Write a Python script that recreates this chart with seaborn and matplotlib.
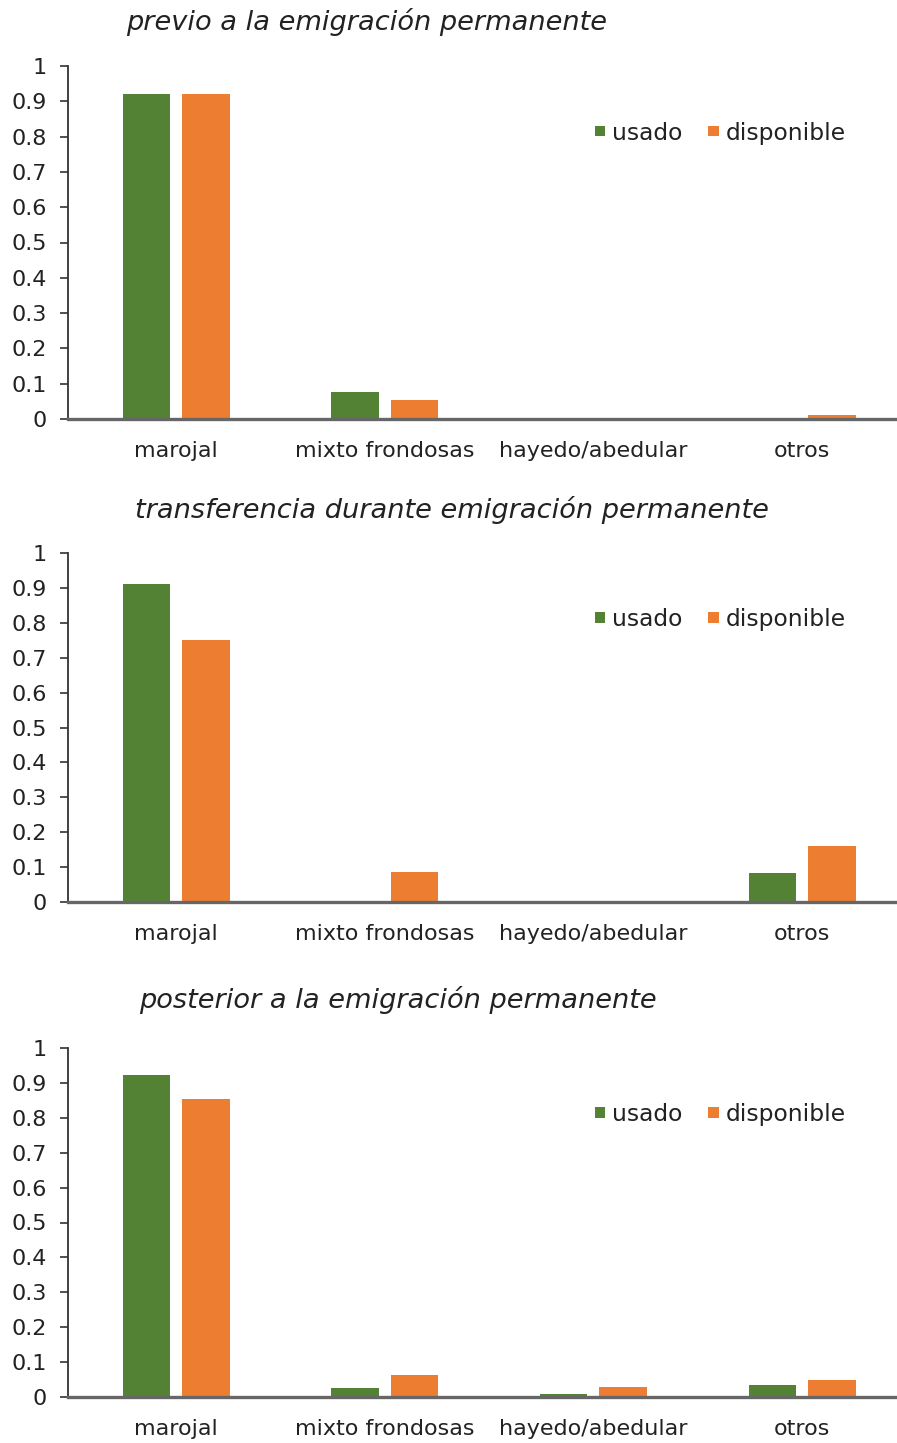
import pandas as pd
import matplotlib
matplotlib.use('Agg')
import matplotlib.pyplot as plt
import seaborn as sns

# Categories and series values
categorias = ['marojal', 'mixto frondosas', 'hayedo/abedular', 'otros']
series = ['usado', 'disponible']

titulos = ['previo a la emigración permanente',
           'transferencia durante emigración permanente',
           'posterior a la emigración permanente']

previo_usado = [0.92, 0.077, 0.0, 0.0]
previo_disponible = [0.92, 0.054, 0.003, 0.011]

transf_usado = [0.91, 0.0, 0.0, 0.083]
transf_disponible = [0.75, 0.086, 0.0, 0.16]

post_usado = [0.923, 0.026, 0.01, 0.035]
post_disponible = [0.854, 0.063, 0.03, 0.05]

ytick_vals = [0, 0.1, 0.2, 0.3, 0.4, 0.5, 0.6, 0.7, 0.8, 0.9, 1]
ytick_labels = ['0', '0.1', '0.2', '0.3', '0.4', '0.5', '0.6', '0.7', '0.8', '0.9', '1']

paneles = [(previo_usado, previo_disponible),
           (transf_usado, transf_disponible),
           (post_usado, post_disponible)]

sns.set_theme(style='white')
plt.rcParams['font.family'] = ['DejaVu Sans']

colores = {'usado': '#548235', 'disponible': '#ED7D31'}

fig = plt.figure(figsize=(8.97, 14.43), dpi=100)
H = 1443.0
W = 897.0

# (top px, bottom px, title center x px, title y px)
layout = [(66, 419, 367, 22), (553, 902, 452, 510), (1048, 1397, 398, 1000)]

for (usado, disponible), titulo, (top, bot, tx, ty) in zip(paneles, titulos, layout):
    ax = fig.add_axes([68 / W, 1 - bot / H, (897 - 68) / W, (bot - top) / H])
    df = pd.DataFrame({
        'categoria': categorias * 2,
        'serie': ['usado'] * 4 + ['disponible'] * 4,
        'valor': usado + disponible,
    })
    sns.barplot(data=df, x='categoria', y='valor', hue='serie', order=categorias,
                hue_order=series, palette=colores, width=0.57, gap=0.2,
                saturation=1, linewidth=0, ax=ax)
    ax.set_xlim(-0.518, 3.455)
    ax.set_ylim(0, 1)
    ax.set_yticks(ytick_vals)
    ax.set_yticklabels(ytick_labels)
    ax.set_xlabel('')
    ax.set_ylabel('')
    ax.tick_params(axis='y', left=True, length=6, width=1.2, color='#333333',
                   labelsize=16, pad=9, labelcolor='#222222')
    ax.tick_params(axis='x', bottom=False, labelsize=16, pad=10, labelcolor='#222222')
    for s in ['top', 'right']:
        ax.spines[s].set_visible(False)
    ax.spines['left'].set_color('#333333')
    ax.spines['left'].set_linewidth(1.3)
    ax.spines['bottom'].set_color('#666666')
    ax.spines['bottom'].set_linewidth(2.4)
    leg = ax.legend(loc='center left', bbox_to_anchor=(0.61, 0.81), ncol=2,
                    frameon=False, fontsize=16.8, handlelength=0.45,
                    handleheight=0.3, handletextpad=0.3, columnspacing=1.1)
    for t in leg.get_texts():
        t.set_color('#222222')
    fig.text(tx / W, 1 - ty / H, titulo, ha='center', va='center',
             fontsize=19.6, style='italic', color='#222222')

fig.savefig('out.png', dpi=100)
